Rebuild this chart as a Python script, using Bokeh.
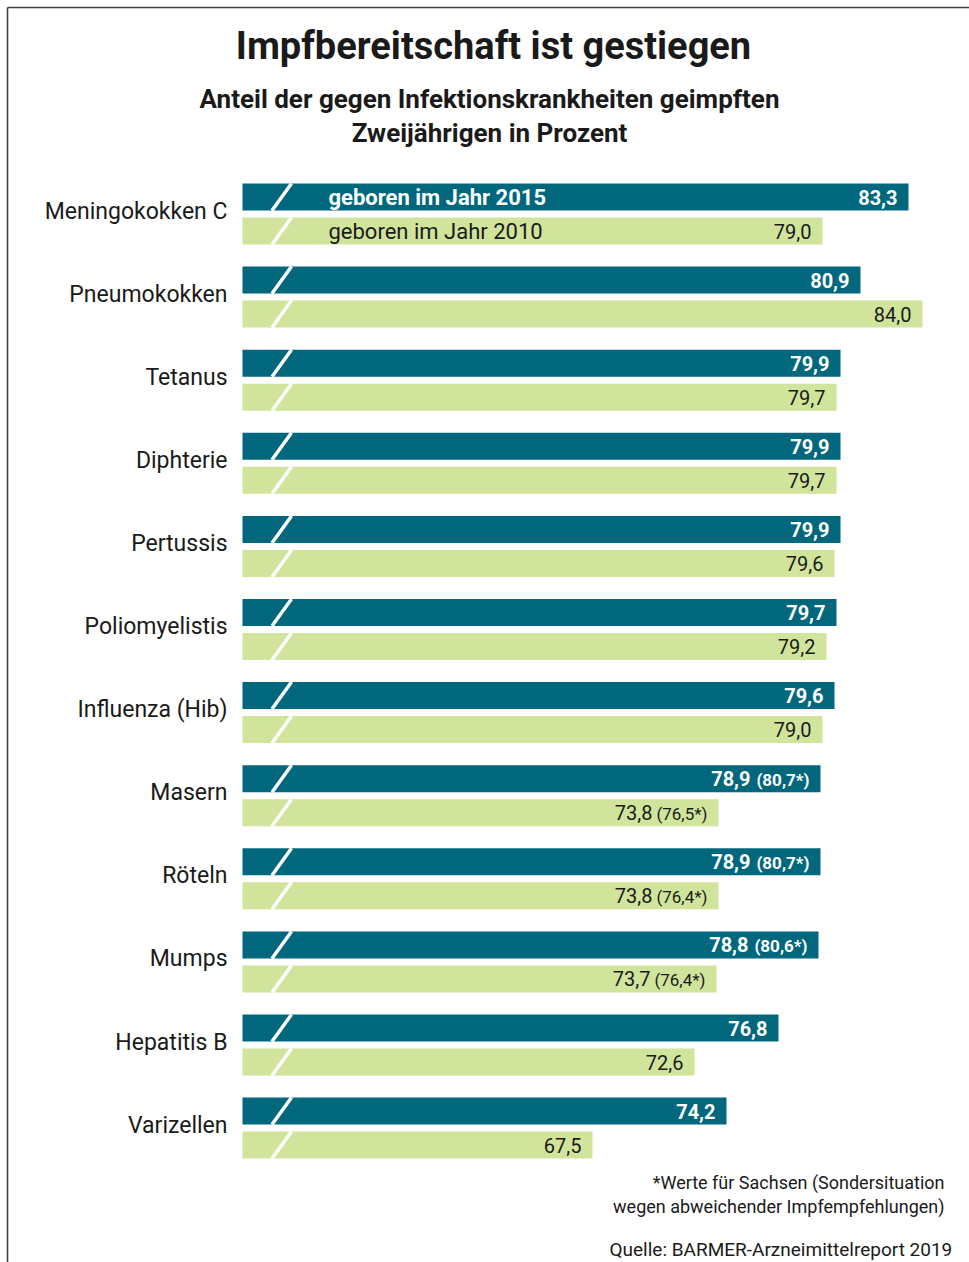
from bokeh.plotting import figure
from bokeh.models import Range1d
from bokeh.core.properties import value
from bokeh.embed import file_html
from bokeh.resources import INLINE

# ---------------- data ----------------
categories = ["Meningokokken C", "Pneumokokken", "Tetanus", "Diphterie", "Pertussis",
              "Poliomyelistis", "Influenza (Hib)", "Masern", "Röteln", "Mumps",
              "Hepatitis B", "Varizellen"]
v2015 = [83.3, 80.9, 79.9, 79.9, 79.9, 79.7, 79.6, 78.9, 78.9, 78.8, 76.8, 74.2]
v2010 = [79.0, 84.0, 79.7, 79.7, 79.6, 79.2, 79.0, 73.8, 73.8, 73.7, 72.6, 67.5]
sachsen2015 = [None, None, None, None, None, None, None, 80.7, 80.7, 80.6, None, None]
sachsen2010 = [None, None, None, None, None, None, None, 76.5, 76.4, 76.4, None, None]
series_labels = ["geboren im Jahr 2015", "geboren im Jahr 2010"]
title_text = "Impfbereitschaft ist gestiegen"
subtitle_lines = ["Anteil der gegen Infektionskrankheiten geimpften", "Zweijährigen in Prozent"]
footnote_lines = ["*Werte für Sachsen (Sondersituation", "wegen abweichender Impfempfehlungen)"]
source_text = "Quelle: BARMER-Arzneimittelreport 2019"

# ---------------- layout / style ----------------
W, H = 969, 1262
BASE = 50.0            # broken axis: bars start at 50 %
PX_PER_UNIT = 20.0
BAR_LEFT_PX = 242
DARK = "#00677d"
LIGHT = "#d0e49b"
INK = "#1a1a1a"
FONT = value("Roboto")


def px_x(px):
    return BASE + (px - BAR_LEFT_PX) / PX_PER_UNIT


def fmt(v):
    return f"{v:.1f}".replace(".", ",")


p = figure(width=W, height=H, x_range=Range1d(px_x(0), px_x(W)), y_range=Range1d(H, 0),
           output_backend="svg", toolbar_location=None, min_border=0,
           x_axis_location=None, y_axis_location=None, title=None)
p.grid.visible = False
p.outline_line_color = None
p.background_fill_color = "white"
p.border_fill_color = "white"

n = len(categories)
GROUP_TOP = 183
GROUP_STEP = 83.1
BAR_H = 27
BAR_GAP = 7
y15 = [GROUP_TOP + BAR_H / 2 + i * GROUP_STEP for i in range(n)]
y10 = [y + BAR_H + BAR_GAP for y in y15]
ymid = [(a + b) / 2 for a, b in zip(y15, y10)]

# bars
p.hbar(y=y15, left=BASE, right=v2015, height=BAR_H, fill_color=DARK, line_color=None)
p.hbar(y=y10, left=BASE, right=v2010, height=BAR_H, fill_color=LIGHT, line_color=None)

# axis-break slashes
ys_all = y15 + y10
p.segment(x0=[px_x(271.5)] * len(ys_all), y0=[y + BAR_H / 2 for y in ys_all],
          x1=[px_x(291)] * len(ys_all), y1=[y - BAR_H / 2 for y in ys_all],
          line_color="white", line_width=3.5)

# category labels
p.text(x=[px_x(227)] * n, y=[m - 3 for m in ymid], text=categories, text_align="right",
       text_baseline="middle", text_font=FONT, text_font_size="23px", text_color=INK)

# legend labels inside first pair of bars
p.text(x=[px_x(328)], y=[y15[0]], text=[series_labels[0]], text_align="left",
       text_baseline="middle", text_font=FONT, text_font_size="22px",
       text_font_style="bold", text_color="white")
p.text(x=[px_x(328)], y=[y10[0]], text=[series_labels[1]], text_align="left",
       text_baseline="middle", text_font=FONT, text_font_size="22px", text_color=INK)

# value labels
for vals, sx, ys, col, style, off in [(v2015, sachsen2015, y15, "white", "bold", -70),
                                      (v2010, sachsen2010, y10, INK, "normal", -66)]:
    main_x, main_y, main_t, main_off = [], [], [], []
    par_x, par_y, par_t = [], [], []
    for v, s, y in zip(vals, sx, ys):
        main_x.append(v)
        main_y.append(y)
        main_t.append(fmt(v))
        if s is None:
            main_off.append(-11)
        else:
            main_off.append(off)
            par_x.append(v)
            par_y.append(y + 1)
            par_t.append(f"({fmt(s)}*)")
    p.text(x=main_x, y=main_y, text=main_t, x_offset=main_off, text_align="right",
           text_baseline="middle", text_font=FONT, text_font_size="20px",
           text_font_style=style, text_color=col)
    if par_t:
        p.text(x=par_x, y=par_y, text=par_t, x_offset=-11, text_align="right",
               text_baseline="middle", text_font=FONT, text_font_size="17px",
               text_font_style=style, text_color=col)

# titles
p.text(x=[px_x(493)], y=[45], text=[title_text], text_align="center",
       text_baseline="middle", text_font=FONT, text_font_size="38px",
       text_font_style="bold", text_color=INK)
p.text(x=[px_x(489)] * 2, y=[98, 132], text=subtitle_lines, text_align="center",
       text_baseline="middle", text_font=FONT, text_font_size="26px",
       text_font_style="bold", text_color=INK)

# footnote and source
p.text(x=[px_x(944)] * 2, y=[1182, 1206], text=footnote_lines, text_align="right",
       text_baseline="middle", text_font=FONT, text_font_size="18px", text_color=INK)
p.text(x=[px_x(609)], y=[1249], text=[source_text], text_align="left",
       text_baseline="alphabetic", text_font=FONT, text_font_size="19px", text_color=INK)

# frame lines (top and left)
p.segment(x0=[px_x(7), px_x(7)], y0=[7, 7], x1=[px_x(W + 2), px_x(7)], y1=[7, H + 2],
          line_color="#444444", line_width=1.6)

open("out.html", "w").write(file_html(p, INLINE))
